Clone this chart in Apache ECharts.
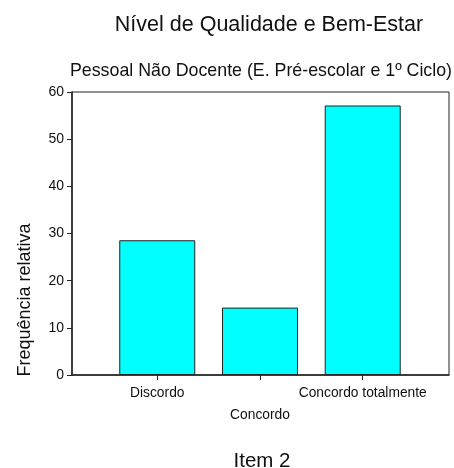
<!DOCTYPE html>
<html>
<head>
<meta charset="utf-8">
<script src="https://cdn.jsdelivr.net/npm/echarts@6/dist/echarts.min.js"></script>
<style>
  html, body { margin: 0; padding: 0; background: #fff; }
  #chart { width: 454px; height: 468px; }
</style>
</head>
<body>
<div id="chart"></div>
<script>
(function () {

    var categories = ['Discordo', 'Concordo', 'Concordo totalmente'];
    var positions = [1, 2, 3];
    var values = [28.57, 14.29, 57.14];
    var yTicks = [0, 10, 20, 30, 40, 50, 60];

    var FONT = '"Liberation Sans", Arial, sans-serif';

    var barData = positions.map(function (p, i) { return [p, values[i]]; });

    var chart = echarts.init(document.getElementById('chart'));

    chart.setOption({
        animation: false,
        textStyle: { fontFamily: FONT },
        title: [
            { text: 'Nível de Qualidade e Bem-Estar', left: 264, top: 9, textAlign: 'center',
              textStyle: { fontSize: 21.5, fontWeight: 'normal', color: '#111', fontFamily: FONT } },
            { text: 'Pessoal Não Docente (E. Pré-escolar e 1º Ciclo)', left: 256, top: 57, textAlign: 'center',
              textStyle: { fontSize: 17.8, fontWeight: 'normal', color: '#111', fontFamily: FONT } },
            { text: 'Item 2', left: 257, top: 446, textAlign: 'center',
              textStyle: { fontSize: 20.5, fontWeight: 'normal', color: '#111', fontFamily: FONT } }
        ],
        graphic: [{
            type: 'text',
            x: 25, y: 300, rotation: Math.PI / 2,
            style: { text: 'Frequência relativa', font: '18px ' + FONT, fill: '#111',
                     align: 'center', verticalAlign: 'middle' }
        }],
        grid: { left: 72, right: 5, top: 92, bottom: 93, show: true,
                borderColor: '#222', borderWidth: 1, backgroundColor: '#fff' },
        xAxis: {
            type: 'value', min: 0.17, max: 3.84,
            splitLine: { show: false },
            axisLine: { show: true, lineStyle: { color: '#222', width: 1.5 } },
            axisTick: { show: true, length: 5, customValues: positions, lineStyle: { color: '#222' } },
            axisLabel: {
                customValues: positions, margin: 11, color: '#111',
                formatter: function (v) {
                    var i = positions.indexOf(Math.round(v));
                    if (i < 0) return '';
                    return (i % 2 ? '{b|' : '{a|') + categories[i] + '}';
                },
                rich: {
                    a: { fontSize: 13.8, color: '#111', fontFamily: FONT },
                    b: { fontSize: 13.8, color: '#111', fontFamily: FONT, padding: [22, 0, 0, 0] }
                }
            }
        },
        yAxis: {
            type: 'value', min: 0, max: 60, interval: 10,
            splitLine: { show: false },
            axisLine: { show: true, lineStyle: { color: '#222', width: 1.5 } },
            axisTick: { show: true, length: 5, lineStyle: { color: '#222' } },
            axisLabel: { color: '#111', fontSize: 14, margin: 8,
                         formatter: function (v) { return yTicks.indexOf(v) >= 0 ? String(v) : ''; } }
        },
        series: [{
            type: 'bar',
            data: barData,
            barWidth: 76,
            itemStyle: { color: '#00FFFF', borderColor: '#222', borderWidth: 1 }
        }]
    });

})();
</script>
</body>
</html>
